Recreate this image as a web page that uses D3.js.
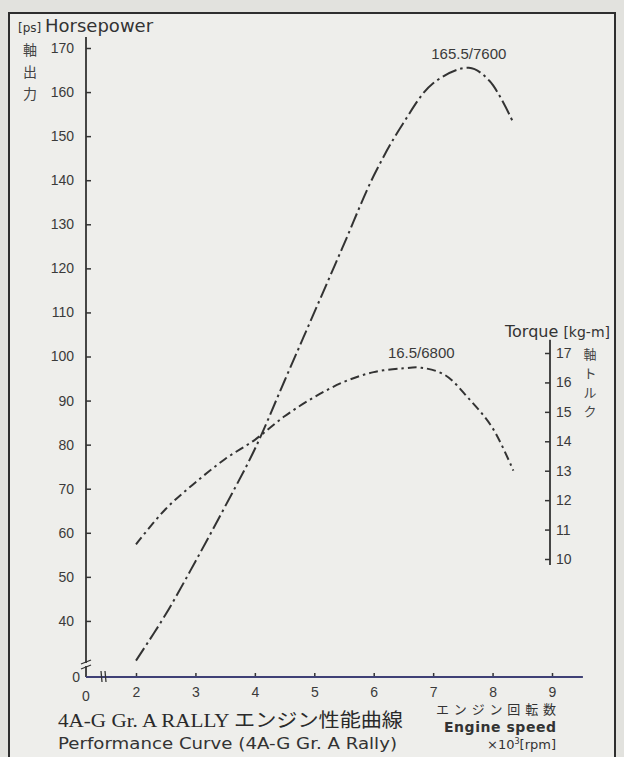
<!DOCTYPE html>
<html>
<head>
<meta charset="utf-8">
<script src="https://cdn.jsdelivr.net/npm/d3@7"></script>
<style>
    body { margin: 0; background: #e2e2de; }
    svg { display: block; }
    .tick text { font-family: "Liberation Sans", Arial, sans-serif; font-size: 14px; fill: #3a3a3a; }
</style>
</head>
<body>
<script>
// engine speed (x1000 rpm) for each reading
var rpm = [2, 2.5, 3, 3.5, 4, 4.5, 5, 5.5, 6, 6.5, 7, 7.6, 7.95, 8.35];
// horsepower readings [ps]
var horsepower = [31, 41.5, 53.5, 66, 79, 94.5, 110, 125.5, 141, 153, 162, 165.5, 162.5, 153];

// torque is read at its own rpm points
var rpmTorque = [2, 2.5, 3, 3.5, 4, 4.5, 5, 5.5, 6, 6.5, 6.8, 7.2, 7.6, 8, 8.35];
var torque = [10.5, 11.7, 12.6, 13.4, 14.05, 14.85, 15.5, 16.02, 16.35, 16.48, 16.5, 16.25, 15.45, 14.45, 13.0];

// tick values
var hpTicks = [40, 50, 60, 70, 80, 90, 100, 110, 120, 130, 140, 150, 160, 170];
var torqueTicks = [10, 11, 12, 13, 14, 15, 16, 17];
var rpmTicks = [2, 3, 4, 5, 6, 7, 8, 9];

window.onload = function(){

    var w = 624, h = 757;
    var ink = "#333333";
    var fmt = d3.format("d");

    var svg = d3.select("body")
        .append("svg")
        .attr("width", w)
        .attr("height", h);

    // page + frame
    svg.append("rect")
        .attr("x", 9)
        .attr("y", 13)
        .attr("width", 606)
        .attr("height", 770)
        .style("fill", "#eeeeeb")
        .style("stroke", "#2e2e2e")
        .style("stroke-width", 2);

    // scales (axes are broken below 2000 rpm and 30 ps)
    var x = d3.scaleLinear().domain([2, 9]).range([136, 552]);
    var y = d3.scaleLinear().domain([30, 170]).range([665, 48]);
    var yT = d3.scaleLinear().domain([10, 17]).range([559, 353]);
    var x0 = 86, y0 = 677; // where the zeros sit

    // left axis: horsepower
    var hpAxis = svg.append("g")
        .attr("transform", "translate(" + x0 + ",0)")
        .call(d3.axisLeft(y).tickValues(hpTicks).tickFormat(fmt).tickSize(-5).tickPadding(12).tickSizeOuter(0));
    hpAxis.select(".domain").remove();
    hpAxis.selectAll("line").style("stroke", ink).style("stroke-width", 1.5);

    svg.append("line")
        .attr("x1", x0).attr("x2", x0)
        .attr("y1", y(172.5)).attr("y2", y0)
        .style("stroke", ink).style("stroke-width", 1.8);

    // right axis: torque
    var tqX = 550;
    var tqAxis = svg.append("g")
        .attr("transform", "translate(" + tqX + ",0)")
        .call(d3.axisRight(yT).tickValues(torqueTicks).tickFormat(fmt).tickSize(-5).tickPadding(6).tickSizeOuter(0));
    tqAxis.select(".domain").remove();
    tqAxis.selectAll("line").style("stroke", ink).style("stroke-width", 1.5);

    svg.append("line")
        .attr("x1", tqX).attr("x2", tqX)
        .attr("y1", yT(17.45)).attr("y2", yT(9.8))
        .style("stroke", ink).style("stroke-width", 1.8);

    // bottom axis: engine speed
    var rpmAxis = svg.append("g")
        .attr("transform", "translate(0," + y0 + ")")
        .call(d3.axisBottom(x).tickValues(rpmTicks).tickFormat(fmt).tickSize(-4).tickPadding(10).tickSizeOuter(0));
    rpmAxis.select(".domain").remove();
    rpmAxis.selectAll("line").style("stroke", ink).style("stroke-width", 1.5);

    svg.append("line")
        .attr("x1", x0).attr("x2", x(9.52))
        .attr("y1", y0).attr("y2", y0)
        .style("stroke", "#3f4176").style("stroke-width", 2);

    // zero labels
    svg.append("text")
        .attr("x", x0).attr("y", y0 + 24)
        .attr("text-anchor", "middle")
        .style("font", "14px 'Liberation Sans', Arial, sans-serif").style("fill", "#3a3a3a")
        .text("0");
    svg.append("text")
        .attr("x", x0 - 6).attr("y", y0 + 5)
        .attr("text-anchor", "end")
        .style("font", "14px 'Liberation Sans', Arial, sans-serif").style("fill", "#3a3a3a")
        .text("0");

    // break marks
    var brk = svg.append("g").style("stroke", ink).style("stroke-width", 1.3);
    [662, 667].forEach(function(b){
        brk.append("line").attr("x1", x0 - 5).attr("x2", x0 + 5).attr("y1", b + 2).attr("y2", b - 2);
    });
    brk.append("rect").attr("x", x0 - 1).attr("y", 663).attr("width", 2).attr("height", 3)
        .style("fill", "#eeeeeb").style("stroke", "none");
    [101, 105].forEach(function(b){
        brk.append("line").attr("x1", b).attr("x2", b + 1).attr("y1", y0 - 6).attr("y2", y0 + 5);
    });

    // curves
    var hpLine = d3.line()
        .x(function(d, i){ return x(rpm[i]); })
        .y(function(d){ return y(d); })
        .curve(d3.curveCatmullRom.alpha(0.5));

    svg.append("path")
        .datum(horsepower)
        .attr("d", hpLine)
        .style("fill", "none")
        .style("stroke", ink)
        .style("stroke-width", 2)
        .style("stroke-dasharray", "15,4,2.5,4");

    var tqLine = d3.line()
        .x(function(d, i){ return x(rpmTorque[i]); })
        .y(function(d){ return yT(d); })
        .curve(d3.curveCatmullRom.alpha(0.5));

    svg.append("path")
        .datum(torque)
        .attr("d", tqLine)
        .style("fill", "none")
        .style("stroke", ink)
        .style("stroke-width", 2)
        .style("stroke-dasharray", "9,4,2.5,4");

    // peak labels
    var sans = "'Liberation Sans', Arial, sans-serif";
    svg.append("text")
        .attr("x", x(7.6)).attr("y", y(165.5) - 9)
        .attr("text-anchor", "middle")
        .style("font-family", sans).style("font-size", "15px").style("fill", "#3a3a3a")
        .text("165.5/7600");
    svg.append("text")
        .attr("x", x(6.8)).attr("y", yT(16.5) - 10)
        .attr("text-anchor", "middle")
        .style("font-family", sans).style("font-size", "15px").style("fill", "#3a3a3a")
        .text("16.5/6800");

    // axis titles
    var wide = "'DejaVu Sans', Verdana, sans-serif";
    var jp = "'Noto Sans CJK JP', sans-serif";

    var hpTitle = svg.append("text")
        .attr("x", 18).attr("y", 32)
        .style("font-family", wide).style("fill", "#333");
    hpTitle.append("tspan").style("font-size", "12px").text("[ps] ");
    hpTitle.append("tspan").style("font-size", "18px").text("Horsepower");

    svg.selectAll(".hpKanji")
        .data(["軸", "出", "力"])
        .enter()
        .append("text")
        .attr("class", "hpKanji")
        .attr("x", 30).attr("y", function(d, i){ return 55 + i * 22; })
        .attr("text-anchor", "middle")
        .style("font-family", jp).style("font-size", "14px").style("fill", "#444")
        .text(function(d){ return d; });

    var tqTitle = svg.append("text")
        .attr("x", 610).attr("y", 337)
        .attr("text-anchor", "end")
        .style("font-family", wide).style("fill", "#333");
    tqTitle.append("tspan").style("font-size", "16px").text("Torque ");
    tqTitle.append("tspan").style("font-size", "14px").text("[kg-m]");

    svg.selectAll(".tqKana")
        .data(["軸", "ト", "ル", "ク"])
        .enter()
        .append("text")
        .attr("class", "tqKana")
        .attr("x", 590).attr("y", function(d, i){ return 359 + i * 19; })
        .attr("text-anchor", "middle")
        .style("font-family", jp).style("font-size", "13px").style("fill", "#444")
        .text(function(d){ return d; });

    // x axis title (bottom right)
    svg.append("text")
        .attr("x", 556).attr("y", 714)
        .attr("text-anchor", "end")
        .attr("textLength", 120)
        .style("font-family", jp).style("font-size", "13px").style("fill", "#333")
        .text("エンジン回転数");
    svg.append("text")
        .attr("x", 556).attr("y", 732)
        .attr("text-anchor", "end")
        .attr("textLength", 112)
        .style("font-family", wide).style("font-size", "14px").style("font-weight", "bold").style("fill", "#333")
        .text("Engine speed");
    var unit = svg.append("text")
        .attr("x", 556).attr("y", 749)
        .attr("text-anchor", "end")
        .style("font-family", wide).style("font-size", "13px").style("fill", "#333");
    unit.append("tspan").text("×10");
    unit.append("tspan").attr("dy", -5).style("font-size", "8px").text("3");
    unit.append("tspan").attr("dy", 5).text("[rpm]");

    // chart title (bottom left)
    svg.append("text")
        .attr("x", 58).attr("y", 727)
        .attr("textLength", 345)
        .attr("lengthAdjust", "spacingAndGlyphs")
        .style("font-family", "'Liberation Serif', 'Noto Sans CJK JP', serif").style("font-size", "19px").style("fill", "#2a2a2a")
        .text("4A-G Gr. A RALLY エンジン性能曲線");
    svg.append("text")
        .attr("x", 58).attr("y", 749)
        .attr("textLength", 339)
        .attr("lengthAdjust", "spacingAndGlyphs")
        .style("font-family", wide).style("font-size", "15px").style("fill", "#333")
        .text("Performance Curve (4A-G Gr. A Rally)");
};
</script>
</body>
</html>
